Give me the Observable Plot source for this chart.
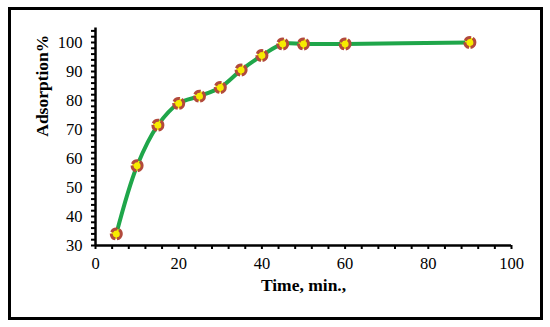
<!DOCTYPE html>
<html>
<head>
<meta charset="utf-8">
<script src="https://cdn.jsdelivr.net/npm/d3@7"></script>
<script src="https://cdn.jsdelivr.net/npm/@observablehq/plot@0.6"></script>
<style>
  html, body { margin: 0; padding: 0; background: #fff; }
  #wrap { position: relative; width: 550px; height: 327px; }
  #border { position: absolute; left: 8px; top: 7px; width: 529px; height: 307px; border: 3px solid #000; pointer-events: none; }
  #chart { position: absolute; left: 0; top: 0; }
</style>
</head>
<body>
<div id="wrap"><div id="chart"></div><div id="border"></div></div>
<script>
const time = [5, 10, 15, 20, 25, 30, 35, 40, 45, 50, 60, 90];
const adsorption = [34, 57.5, 71.5, 79, 81.5, 84.5, 90.5, 95.5, 99.5, 99.5, 99.5, 100];
const xTickLabels = [0, 20, 40, 60, 80, 100];
const yTickLabels = [30, 40, 50, 60, 70, 80, 90, 100];
const xTitle = "Time, min.,";
const yTitle = "Adsorption%";

const data = time.map((t, i) => ({time: t, value: adsorption[i]}));
const serif = "'Liberation Serif', 'Times New Roman', serif";

const chart = Plot.plot({
  width: 550,
  height: 327,
  marginLeft: 95,
  marginRight: 39,
  marginTop: 27.5,
  marginBottom: 82,
  style: {fontFamily: serif, fontSize: "16.5px", color: "#000", background: "transparent"},
  x: {domain: [0, 100]},
  y: {domain: [30, 105]},
  marks: [
    Plot.axisX({
      ticks: d3.range(0, 101, 4),
      tickFormat: d => xTickLabels.includes(d) ? String(d) : "",
      tickSize: 4, tickPadding: 8, strokeWidth: 2, fontSize: 16.5, label: null
    }),
    Plot.axisY({
      ticks: d3.range(30, 105, 2),
      tickFormat: d => yTickLabels.includes(d) ? String(d) : "",
      tickSize: 4, tickPadding: 9, strokeWidth: 2, fontSize: 16.5, label: null
    }),
    Plot.ruleX([0], {stroke: "#000", strokeWidth: 2.5}),
    Plot.ruleY([30], {stroke: "#000", strokeWidth: 2.5}),
    Plot.line(data, {x: "time", y: "value", stroke: "#1fa64a", strokeWidth: 4, curve: "catmull-rom"}),
    Plot.dot(data, {x: "time", y: "value", r: 5, fill: "#f7ec00", stroke: "#b24a3c", strokeWidth: 3, strokeDasharray: "7,1.6"}),
    Plot.text([xTitle], {frameAnchor: "bottom", dy: 45, fontWeight: "bold", fontSize: 17.5, fill: "#000"}),
    Plot.text([yTitle], {frameAnchor: "left", dx: -53, dy: 0, rotate: -90, fontWeight: "bold", fontSize: 17.5, fill: "#000"})
  ]
});
document.getElementById("chart").appendChild(chart);
</script>
</body>
</html>
